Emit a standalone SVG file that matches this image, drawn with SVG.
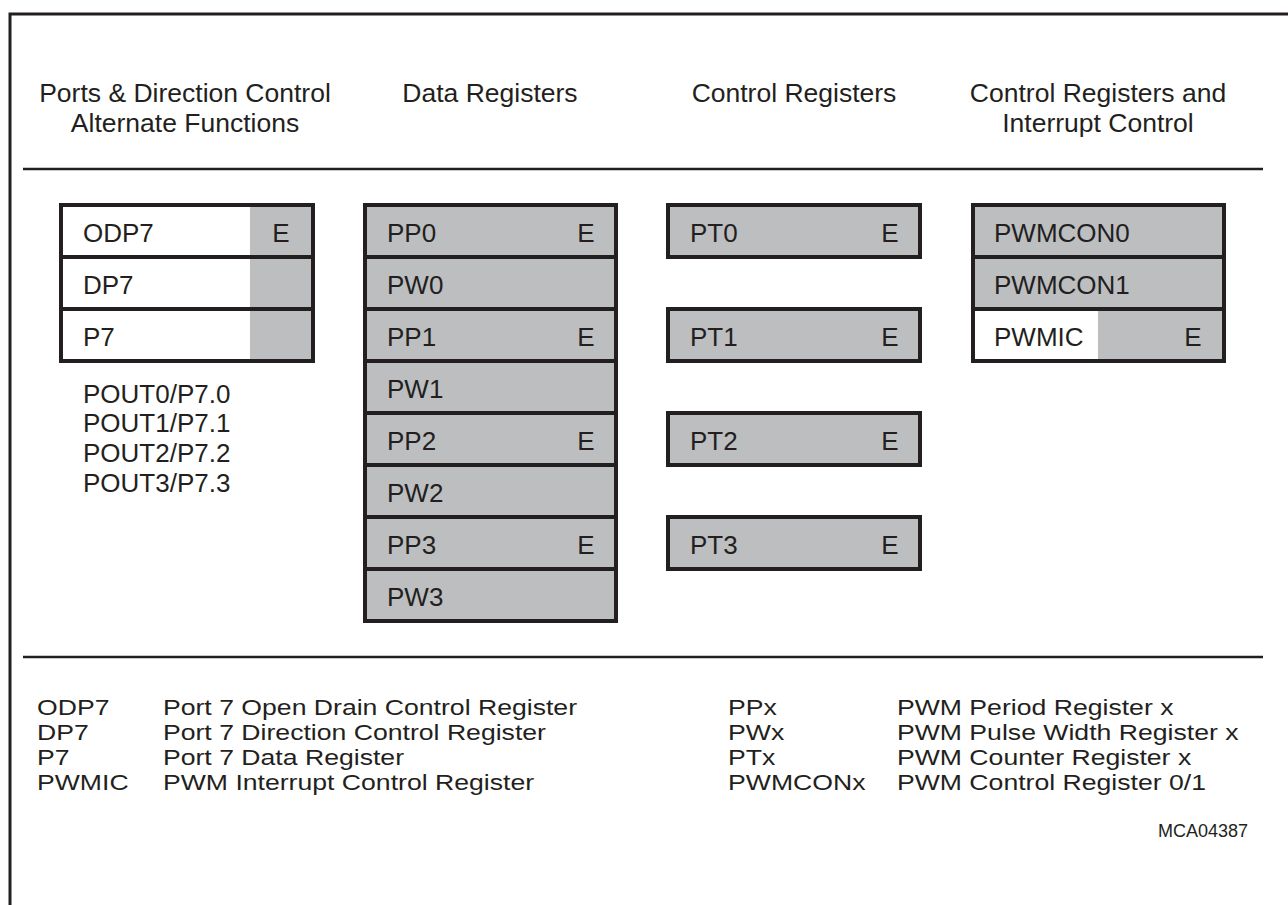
<svg xmlns="http://www.w3.org/2000/svg" width="1288" height="905" viewBox="0 0 1288 905">
<style>
text{font-family:"Liberation Sans",Arial,Helvetica,sans-serif;fill:#231f20;}
.h{font-size:26.5px;text-anchor:middle;}
.t{font-size:26px;}
.e{font-size:26px;text-anchor:middle;}
.l{font-size:22px;}
.s{font-size:18px;}
.box{stroke:#231f20;stroke-width:4;}
.g{fill:#bcbec0;}
.w{fill:#ffffff;}
.rule{stroke:#231f20;stroke-width:2.5;fill:none;}
</style>
<rect x="0" y="0" width="1288" height="905" fill="#ffffff"/>
<rect x="10" y="14" width="1300" height="900" fill="none" stroke="#231f20" stroke-width="3"/>

<g id="headers">
<text class="h" x="185" y="102">Ports &amp; Direction Control</text>
<text class="h" x="185" y="132">Alternate Functions</text>
<text class="h" x="490" y="102">Data Registers</text>
<text class="h" x="794" y="102">Control Registers</text>
<text class="h" x="1098" y="102">Control Registers and</text>
<text class="h" x="1098" y="132">Interrupt Control</text>
</g>

<g id="connectors">
<line class="rule" x1="23" y1="169" x2="1263" y2="169"/>
<line class="rule" x1="23" y1="657" x2="1263" y2="657"/>
</g>

<g id="port-registers">
<rect class="w" x="61" y="205" width="189" height="156"/>
<rect class="g" x="250" y="205" width="63" height="156"/>
<rect class="box" x="61" y="205" width="252" height="52" fill="none"/>
<rect class="box" x="61" y="257" width="252" height="52" fill="none"/>
<rect class="box" x="61" y="309" width="252" height="52" fill="none"/>
<text class="t" x="83" y="242">ODP7</text>
<text class="e" x="281" y="242">E</text>
<text class="t" x="83" y="294">DP7</text>
<text class="t" x="83" y="346">P7</text>
</g>

<g id="alternate-functions">
<text class="t" x="83" y="403">POUT0/P7.0</text>
<text class="t" x="83" y="432">POUT1/P7.1</text>
<text class="t" x="83" y="462">POUT2/P7.2</text>
<text class="t" x="83" y="492">POUT3/P7.3</text>
</g>

<g id="data-registers">
<rect class="g box" x="365" y="205" width="251" height="52"/>
<rect class="g box" x="365" y="257" width="251" height="52"/>
<rect class="g box" x="365" y="309" width="251" height="52"/>
<rect class="g box" x="365" y="361" width="251" height="52"/>
<rect class="g box" x="365" y="413" width="251" height="52"/>
<rect class="g box" x="365" y="465" width="251" height="52"/>
<rect class="g box" x="365" y="517" width="251" height="52"/>
<rect class="g box" x="365" y="569" width="251" height="52"/>
<text class="t" x="387" y="242">PP0</text><text class="e" x="586" y="242">E</text>
<text class="t" x="387" y="294">PW0</text>
<text class="t" x="387" y="346">PP1</text><text class="e" x="586" y="346">E</text>
<text class="t" x="387" y="398">PW1</text>
<text class="t" x="387" y="450">PP2</text><text class="e" x="586" y="450">E</text>
<text class="t" x="387" y="502">PW2</text>
<text class="t" x="387" y="554">PP3</text><text class="e" x="586" y="554">E</text>
<text class="t" x="387" y="606">PW3</text>
</g>

<g id="counter-registers">
<rect class="g box" x="668" y="205" width="252" height="52"/>
<rect class="g box" x="668" y="309" width="252" height="52"/>
<rect class="g box" x="668" y="413" width="252" height="52"/>
<rect class="g box" x="668" y="517" width="252" height="52"/>
<text class="t" x="690" y="242">PT0</text><text class="e" x="890" y="242">E</text>
<text class="t" x="690" y="346">PT1</text><text class="e" x="890" y="346">E</text>
<text class="t" x="690" y="450">PT2</text><text class="e" x="890" y="450">E</text>
<text class="t" x="690" y="554">PT3</text><text class="e" x="890" y="554">E</text>
</g>

<g id="pwm-control">
<rect class="g" x="973" y="205" width="251" height="156"/>
<rect class="w" x="973" y="309" width="125" height="52"/>
<rect class="box" x="973" y="205" width="251" height="52" fill="none"/>
<rect class="box" x="973" y="257" width="251" height="52" fill="none"/>
<rect class="box" x="973" y="309" width="251" height="52" fill="none"/>
<text class="t" x="994" y="242">PWMCON0</text>
<text class="t" x="994" y="294">PWMCON1</text>
<text class="t" x="994" y="346">PWMIC</text>
<text class="e" x="1193" y="346">E</text>
</g>

<g id="legend" transform="scale(1.21,1)">
<text class="l" x="30.6" y="715">ODP7</text><text class="l" x="134.7" y="715">Port 7 Open Drain Control Register</text>
<text class="l" x="30.6" y="740">DP7</text><text class="l" x="134.7" y="740">Port 7 Direction Control Register</text>
<text class="l" x="30.6" y="765">P7</text><text class="l" x="134.7" y="765">Port 7 Data Register</text>
<text class="l" x="30.6" y="790">PWMIC</text><text class="l" x="134.7" y="790">PWM Interrupt Control Register</text>
<text class="l" x="601.7" y="715">PPx</text><text class="l" x="741.3" y="715">PWM Period Register x</text>
<text class="l" x="601.7" y="740">PWx</text><text class="l" x="741.3" y="740">PWM Pulse Width Register x</text>
<text class="l" x="601.7" y="765">PTx</text><text class="l" x="741.3" y="765">PWM Counter Register x</text>
<text class="l" x="601.7" y="790">PWMCONx</text><text class="l" x="741.3" y="790">PWM Control Register 0/1</text>
</g>
<g id="figure-id">
<text class="s" x="1248" y="837" text-anchor="end">MCA04387</text>
</g>
</svg>
